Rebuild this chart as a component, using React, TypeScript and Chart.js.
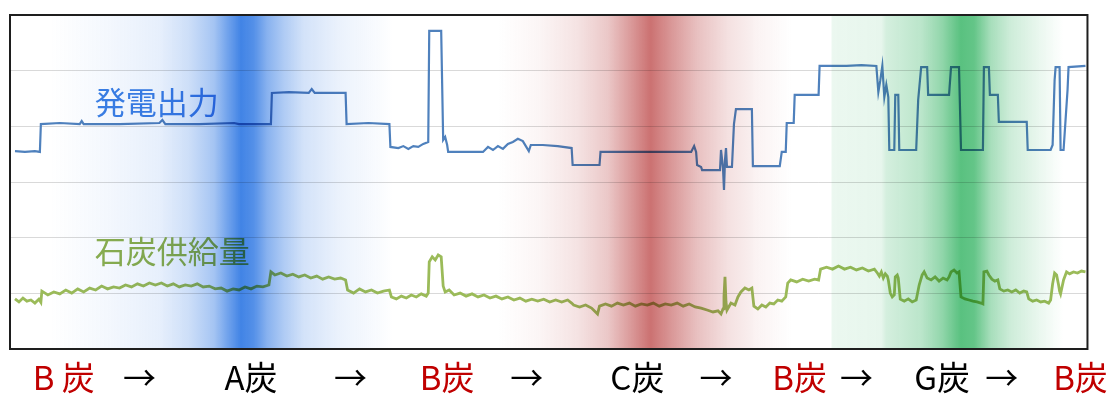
import React, { useEffect, useRef } from "react";
import { Chart, registerables } from "chart.js";

Chart.register(...registerables);

// 発電出力 (x, value) — value on a 0–120 scale
const powerOutput: [number, number][] = [
  [5, 71.1], [15, 70.8], [25, 71.1], [30, 70.8],
  [31, 80.8], [50, 81.2], [70, 80.8], [72, 81.9], [74, 80.8], [110, 80.8], [150, 81.2], [153, 82.3], [156, 80.8], [190, 80.8], [225, 81.2], [230, 80.8], [262, 80.8],
  [263, 92.0], [280, 92.3], [300, 92.0], [303, 93.4], [306, 92.0], [337, 92.0],
  [338, 80.8], [360, 81.2], [381, 80.8],
  [382, 72.6], [390, 72.2], [395, 72.9], [400, 71.9], [405, 72.9], [410, 72.6], [415, 73.7], [420, 74.4],
  [421, 114.3], [433, 114.3],
  [435, 75.1], [437, 76.2], [439, 73.3], [440, 70.8], [460, 70.8], [475, 70.8], [480, 72.6], [485, 71.5], [490, 72.9], [495, 71.9], [500, 73.7], [505, 74.4], [510, 75.5], [515, 74.7], [518, 72.9], [521, 71.1], [523, 73.3], [535, 73.3], [550, 72.9], [564, 72.2],
  [565, 66.1], [592, 66.1],
  [593, 70.8], [640, 70.8], [684, 70.8], [687, 72.9], [689, 70.8],
  [690, 66.1], [694, 65.4], [695, 64.3], [713, 64.3],
  [714, 71.5], [716, 65.0], [717, 57.1], [718, 67.9], [719, 72.2], [720, 65.4], [725, 65.4],
  [727, 80.8], [729, 86.2], [745, 86.2],
  [746, 65.7], [773, 65.7],
  [775, 70.8], [779, 70.8],
  [780, 81.2], [787, 81.2],
  [788, 91.3], [812, 91.3],
  [813, 101.7], [840, 101.7], [855, 102.0], [870, 101.7],
  [872, 92.3], [874, 96.6], [876, 101.7], [878, 90.5], [880, 94.9], [882, 90.5],
  [883, 71.5], [888, 71.5],
  [889, 91.3], [892, 91.3],
  [893, 71.5], [910, 71.5],
  [912, 89.5], [915, 101.3], [921, 101.3],
  [922, 91.3], [943, 91.3],
  [945, 101.3], [953, 101.3],
  [955, 71.5], [977, 71.5],
  [978, 101.3], [983, 101.3],
  [984, 91.3], [992, 91.3],
  [993, 81.6], [1021, 81.6],
  [1022, 71.5], [1045, 71.5],
  [1047, 73.3], [1049, 96.6], [1050, 101.3], [1054, 101.3],
  [1055, 71.5], [1058, 71.5],
  [1060, 82.3], [1062, 93.1], [1063, 101.3], [1080, 101.7],
];

// 石炭供給量 (x, value)
const coalSupply: [number, number][] = [
  [5, 18.0], [9, 16.9], [13, 18.3], [17, 17.2], [21, 17.6], [25, 16.5], [29, 17.9], [31, 16.8],
  [32, 20.8], [38, 19.4], [44, 20.5], [50, 19.8], [56, 21.2], [62, 20.1], [68, 21.6], [74, 20.5], [80, 21.9], [86, 21.2], [92, 22.6], [98, 21.6], [104, 22.3], [110, 21.9], [116, 23.0], [122, 22.3], [128, 23.4], [134, 22.6], [140, 23.7], [146, 23.0], [152, 23.7], [158, 22.6], [164, 23.4], [170, 22.3], [176, 23.0], [182, 22.6], [188, 23.4], [194, 22.3], [200, 22.6], [206, 21.6], [212, 21.9], [218, 20.8], [224, 21.6], [230, 21.2], [236, 22.3], [242, 21.6], [248, 22.6], [254, 22.3], [260, 23.0],
  [262, 27.7], [266, 26.6], [272, 27.3], [278, 26.2], [284, 26.9], [290, 25.9], [296, 26.6], [302, 25.5], [308, 26.2], [314, 25.1], [320, 25.9], [326, 25.1], [332, 25.5], [337, 24.8],
  [339, 21.2], [345, 20.1], [351, 21.6], [357, 20.5], [363, 21.2], [369, 20.1], [375, 20.8], [381, 21.2],
  [383, 18.7], [388, 18.0], [393, 19.0], [398, 18.3], [403, 19.4], [408, 18.7], [413, 19.8], [418, 19.0], [420, 20.1],
  [421, 31.3], [424, 33.1], [427, 32.0], [430, 33.8], [433, 33.1],
  [435, 22.6], [437, 20.5], [441, 21.2], [446, 19.4], [452, 20.1], [458, 19.0], [464, 19.8], [470, 18.7], [476, 19.4], [482, 18.3], [488, 19.0], [494, 18.0], [500, 18.7], [506, 17.6], [512, 18.3], [518, 17.2], [524, 17.9], [530, 17.2], [536, 17.9], [542, 16.9], [548, 17.6], [554, 16.9], [560, 17.6], [564, 16.5],
  [566, 15.8], [572, 15.1], [578, 15.8], [584, 14.7], [588, 13.3], [590, 12.6], [592, 15.4], [598, 16.2], [604, 15.4], [610, 16.5], [616, 15.8], [622, 16.5], [628, 15.4], [634, 16.2], [640, 15.8], [646, 16.5], [652, 15.4], [658, 16.2], [664, 15.8], [670, 16.5], [676, 15.4], [682, 16.2], [688, 15.1], [694, 14.7], [700, 14.0], [706, 13.3], [711, 13.7], [714, 12.6],
  [716, 14.4], [717, 19.0], [718, 25.9], [719, 16.9], [720, 14.0], [724, 16.5], [728, 15.8], [731, 18.7],
  [734, 20.5], [738, 21.9], [742, 21.2], [745, 21.9],
  [747, 15.4], [751, 14.4], [755, 15.8], [759, 15.1], [763, 16.5], [767, 16.2], [771, 17.6], [775, 17.2], [779, 18.7],
  [781, 23.7], [784, 24.8], [790, 24.1], [796, 25.1], [802, 24.4], [808, 25.1], [812, 24.8],
  [814, 28.7], [820, 29.4], [826, 28.7], [832, 29.8], [838, 28.7], [844, 29.4], [850, 28.4], [856, 29.1], [862, 28.0], [868, 28.7],
  [871, 27.3], [873, 26.2], [875, 27.7], [877, 25.5], [879, 27.0], [881, 26.2], [882, 24.8],
  [884, 20.1], [886, 18.7], [888, 19.4],
  [889, 25.9], [891, 26.6], [892, 25.5],
  [894, 17.9], [898, 17.2], [902, 18.0], [906, 16.9], [910, 17.6],
  [913, 23.0], [916, 26.6], [918, 27.7], [921, 25.5], [925, 24.8], [929, 25.9], [933, 24.4], [937, 25.5], [941, 24.8], [943, 25.9],
  [945, 27.7], [948, 28.4], [951, 27.3], [953, 27.7],
  [955, 18.7], [959, 18.0], [963, 17.6], [967, 17.2], [971, 16.9], [975, 16.5], [977, 16.2],
  [978, 27.7], [981, 28.0], [983, 26.6], [986, 25.1], [989, 24.4], [992, 24.8],
  [994, 21.6], [998, 20.8], [1002, 21.2], [1006, 20.5], [1010, 21.2], [1014, 20.1], [1018, 20.8], [1021, 20.5],
  [1023, 18.0], [1027, 17.2], [1031, 17.6], [1035, 16.9], [1039, 17.2], [1043, 16.5], [1045, 17.6],
  [1047, 23.4], [1049, 27.3], [1051, 26.6], [1053, 23.0], [1054, 20.8], [1055, 19.8],
  [1058, 24.8], [1061, 27.7], [1064, 27.0], [1068, 27.7], [1072, 27.3], [1076, 28.0], [1080, 27.7],
];

// coal sequence labels along the bottom
const coalTickPositions = [54, 130, 242, 342, 439, 519, 630, 709, 793, 850, 936, 996, 1075];
const coalTickLabels = ["B 炭", "→", "A炭", "→", "B炭", "→", "C炭", "→", "B炭", "→", "G炭", "→", "B炭"];
const coalTickColors = ["#c00000", "#000", "#000", "#000", "#c00000", "#000", "#000", "#000", "#c00000", "#000", "#000", "#000", "#c00000"];

// coal-change bands: stop positions (x) and intensities
const blueBandX = [40, 100, 150, 180, 205, 218, 232, 245, 258, 275, 295, 330, 385];
const blueBandA = [0, 0.06, 0.12, 0.25, 0.45, 0.7, 0.95, 0.85, 0.6, 0.4, 0.22, 0.1, 0];
const redBandX = [490, 530, 570, 600, 620, 643, 665, 690, 720, 750, 785];
const redBandA = [0, 0.06, 0.18, 0.35, 0.6, 0.9, 0.65, 0.4, 0.2, 0.08, 0];
const greenBandX = [824, 826, 875, 880, 915, 935, 955, 968, 985, 1005, 1035, 1058];
const greenBandA = [0, 0.1, 0.12, 0.22, 0.35, 0.55, 0.85, 0.8, 0.45, 0.25, 0.1, 0];

const FONT = '"Noto Sans CJK JP", "Noto Sans", sans-serif';

const overlayPlugin = {
  id: "overlay",
  afterDatasetsDraw(chart: any) {
    const { ctx, chartArea: a, scales } = chart;
    const x = scales.x;
    const y = scales.y;
    ctx.save();
    ctx.font = `31px ${FONT}`;
    ctx.textBaseline = "middle";
    ctx.textAlign = "left";
    ctx.fillStyle = "#3b80e4";
    ctx.fillText("発電出力", x.getPixelForValue(85), y.getPixelForValue(88.7));
    ctx.fillStyle = "#8cb050";
    ctx.fillText("石炭供給量", x.getPixelForValue(85), y.getPixelForValue(35.2));

    ctx.beginPath();
    ctx.rect(a.left, a.top, a.right - a.left, a.bottom - a.top);
    ctx.clip();
    ctx.globalCompositeOperation = "multiply";
    const bands: [number[], number[], string][] = [
      [blueBandX, blueBandA, "55,125,228"],
      [redBandX, redBandA, "198,98,98"],
      [greenBandX, greenBandA, "60,182,105"],
    ];
    for (const [bx, ba, rgb] of bands) {
      const x0 = x.getPixelForValue(bx[0]);
      const x1 = x.getPixelForValue(bx[bx.length - 1]);
      const g = ctx.createLinearGradient(x0, 0, x1, 0);
      bx.forEach((v, i) => {
        g.addColorStop((x.getPixelForValue(v) - x0) / (x1 - x0), `rgba(${rgb},${ba[i]})`);
      });
      ctx.fillStyle = g;
      ctx.fillRect(x0, a.top, x1 - x0, a.bottom - a.top);
    }
    ctx.restore();
  },
  afterDraw(chart: any) {
    const { ctx, chartArea: a } = chart;
    ctx.save();
    ctx.strokeStyle = "#1e1e1e";
    ctx.lineWidth = 2;
    ctx.strokeRect(a.left, a.top, a.right - a.left, a.bottom - a.top);
    ctx.restore();
  },
};

export default function App() {
  const ref = useRef<HTMLCanvasElement | null>(null);
  useEffect(() => {
    if (!ref.current) return;
    const chart = new Chart(ref.current, {
      type: "line",
      data: {
        datasets: [
          {
            label: "発電出力",
            data: powerOutput.map(([px, py]) => ({ x: px, y: py })),
            borderColor: "#4F81BD",
            borderWidth: 2.2,
            pointRadius: 0,
            tension: 0,
          },
          {
            label: "石炭供給量",
            data: coalSupply.map(([px, py]) => ({ x: px, y: py })),
            borderColor: "#9BBB59",
            borderWidth: 2.8,
            pointRadius: 0,
            tension: 0,
          },
        ],
      },
      options: {
        animation: false,
        responsive: false,
        devicePixelRatio: 1,
        layout: { padding: { left: 10, top: 15, right: 25, bottom: 0 } },
        plugins: { legend: { display: false }, tooltip: { enabled: false } },
        scales: {
          x: {
            type: "linear",
            min: 0,
            max: 1082,
            afterBuildTicks: (scale: any) => {
              scale.ticks = coalTickPositions.map((v) => ({ value: v }));
            },
            afterFit: (scale: any) => {
              scale.height = 45;
            },
            ticks: {
              autoSkip: false,
              maxRotation: 0,
              minRotation: 0,
              padding: 9,
              font: { size: 33, family: FONT },
              callback: (_v: any, i: number) => coalTickLabels[i],
              color: (c: any) => coalTickColors[c.index],
            },
            grid: { display: false, drawTicks: false },
            border: { display: false },
          },
          y: {
            min: 0,
            max: 120,
            ticks: { display: false, stepSize: 20 },
            grid: { color: "#d9d9d9", lineWidth: 1, drawTicks: false },
            border: { display: false },
          },
        },
      },
      plugins: [overlayPlugin],
    });
    return () => chart.destroy();
  }, []);
  return (
    <div style={{ position: "absolute", left: 0, top: 0, width: 1117, height: 394 }}>
      <canvas ref={ref} width={1117} height={394} />
    </div>
  );
}
